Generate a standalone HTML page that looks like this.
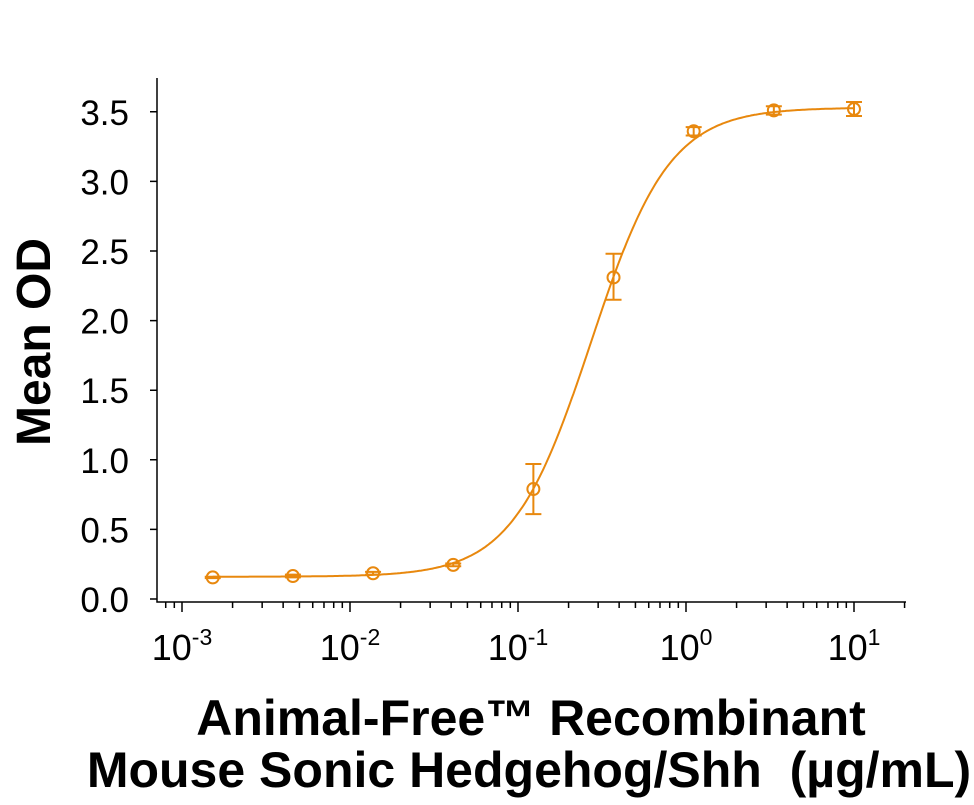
<!DOCTYPE html>
<html><head><meta charset="utf-8"><style>
body{margin:0;background:#fff;}
svg{display:block;font-family:"Liberation Sans",sans-serif;}
</style></head><body>
<svg id="s" width="974" height="805" xmlns="http://www.w3.org/2000/svg">
<g id="g" stroke="#000" stroke-width="1.5" fill="none"></g>
<g id="d" stroke="#E8880E" stroke-width="2" fill="none"></g>
<g id="t" fill="#000"></g>
<text x="0" y="0" transform="translate(50,342) rotate(-90)" text-anchor="middle" font-size="48" font-weight="bold">Mean OD</text>
<text x="531" y="735" text-anchor="middle" font-size="50" font-weight="bold">Animal-Free™ Recombinant</text>
<text x="529" y="787" text-anchor="middle" font-size="50" font-weight="bold" xml:space="preserve">Mouse Sonic Hedgehog/Shh  (µg/mL)</text>
</svg>
<script>
const NS="http://www.w3.org/2000/svg";
const X=v=>518+168*(Math.log10(v)+1);
const Y=v=>599-v*139.2;
function el(p,tag,a,txt){const e=document.createElementNS(NS,tag);for(const k in a)e.setAttribute(k,a[k]);if(txt)e.textContent=txt;document.getElementById(p).appendChild(e);return e;}
let g="M157,78 L157,602 L906,602";
for(let i=0;i<=7;i++){const y=Y(i*0.5);g+=` M150,${y} L157,${y}`;}
for(let e=-4;e<=1;e++){for(let m=1;m<10;m++){const v=m*Math.pow(10,e);const x=X(v);if(x<157||x>906)continue;g+=` M${x},602 L${x},${m==1?612:608}`;}}
el("g","path",{d:g});
for(let i=0;i<=7;i++){el("t","text",{x:129,y:Y(i*0.5)+13,"text-anchor":"end","font-size":35},(i*0.5).toFixed(1));}
["-3","-2","-1","0","1"].forEach((p,i)=>{const x=X(Math.pow(10,+p));const t=el("t","text",{x:x,y:660,"text-anchor":"middle","font-size":36});t.innerHTML=`10<tspan dy="-15" font-size="23">${p}</tspan>`;});
const f=x=>0.16+3.37*Math.pow(x/0.272,1.855)/(1+Math.pow(x/0.272,1.855));
let d="";for(let i=0;i<=400;i++){const lx=Math.log10(10/3**8)+i*(Math.log10(10)-Math.log10(10/3**8))/400;const x=Math.pow(10,lx);d+=(i?"L":"M")+X(x).toFixed(1)+","+Y(f(x)).toFixed(1);}
el("d","path",{d:d});
const pts=[[0.155,0.15,0.16],[0.165,0.155,0.175],[0.185,0.175,0.195],[0.245,0.235,0.255],[0.79,0.61,0.97],[2.31,2.15,2.48],[3.36,3.33,3.39],[3.51,3.48,3.54],[3.52,3.47,3.57]];
pts.forEach((p,k)=>{const v=10/3**(8-k);const x=X(v);
el("d","circle",{cx:x,cy:Y(p[0]),r:6});
el("d","path",{d:`M${x},${Y(p[1])}L${x},${Y(p[2])}M${x-8},${Y(p[1])}L${x+8},${Y(p[1])}M${x-8},${Y(p[2])}L${x+8},${Y(p[2])}`});});
</script>
</body></html>
